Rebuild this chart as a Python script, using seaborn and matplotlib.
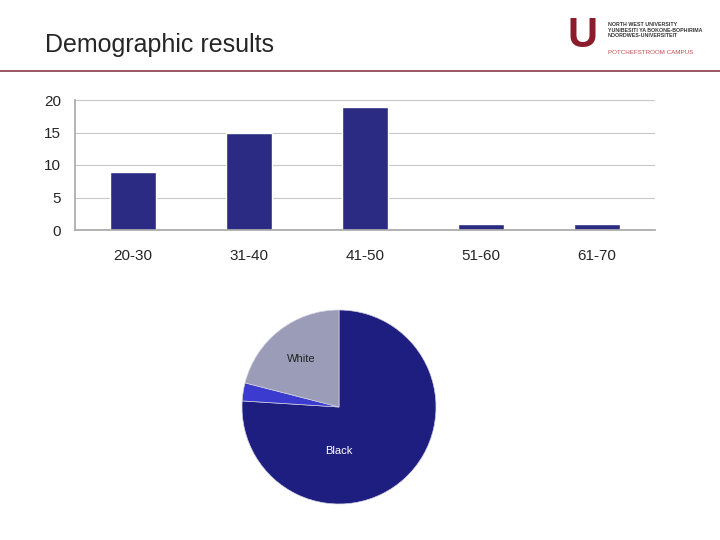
import matplotlib.pyplot as plt
import seaborn as sns
import pandas as pd

age_groups = ["20-30", "31-40", "41-50", "51-60", "61-70"]
age_counts = [9, 15, 19, 1, 1]
race_labels = ["Black", "Other", "White"]
race_shares = [76, 3, 21]

sns.set_theme(style="white")
plt.rcParams['font.family'] = ['Liberation Sans', 'DejaVu Sans']

fig = plt.figure(figsize=(7.2, 5.4), dpi=100)

# slide header
fig.text(45/720, 1 - 45/540, "Demographic results", fontsize=18, va="center", ha="left")
fig.add_artist(plt.Line2D([0, 1], [1 - 71/540, 1 - 71/540], color="#8b3a4a", lw=1.2))
fig.text(608/720, 1 - 30/540, "NORTH WEST UNIVERSITY\nYUNIBESITI YA BOKONE-BOPHIRIMA\nNOORDWES-UNIVERSITEIT",
         fontsize=3.8, va="center", ha="left", color="#333333", fontweight="bold", linespacing=1.2)
fig.text(608/720, 1 - 52/540, "POTCHEFSTROOM CAMPUS", fontsize=4.5, va="center", ha="left", color="#c0504d")
fig.text(568/720, 1 - 36/540, "U", fontsize=30, va="center", ha="left", color="#8b1c2c", fontweight="bold")

# bar chart
ax = fig.add_axes([75/720, 1 - 230/540, 580/720, 130/540])
df = pd.DataFrame({"age": age_groups, "count": age_counts})
sns.barplot(data=df, x="age", y="count", color="#2b2b83", saturation=1, width=0.4, ax=ax)
ax.set_ylim(0, 20)
ax.set_yticks([0, 5, 10, 15, 20])
ax.yaxis.grid(True, color="#c8c8c8", lw=0.8)
ax.set_axisbelow(True)
ax.set_xlabel("")
ax.set_ylabel("")
for s in ["top", "right"]:
    ax.spines[s].set_visible(False)
ax.spines["left"].set_color("#aaaaaa")
ax.spines["bottom"].set_color("#aaaaaa")
ax.tick_params(axis="x", labelsize=11, length=0, pad=14)
ax.tick_params(axis="y", labelsize=11, length=0, pad=10)

# pie chart
r = 97
pax = fig.add_axes([(339 - r)/720, 1 - (407 + r)/540, 2*r/720, 2*r/540])
pax.pie(race_shares, colors=["#1e1e80", "#3b3bd0", "#9a9cb8"],
        startangle=90, counterclock=False,
        wedgeprops=dict(edgecolor="#d0d0e0", linewidth=0.5))
pax.set_xlim(-1, 1)
pax.set_ylim(-1, 1)
pax.set_aspect("auto")
pax.text(-0.39, 0.49, race_labels[2], ha="center", va="center", fontsize=8, color="#222222")
pax.text(0.0, -0.45, race_labels[0], ha="center", va="center", fontsize=8, color="white")

fig.savefig("out.png", dpi=100)
